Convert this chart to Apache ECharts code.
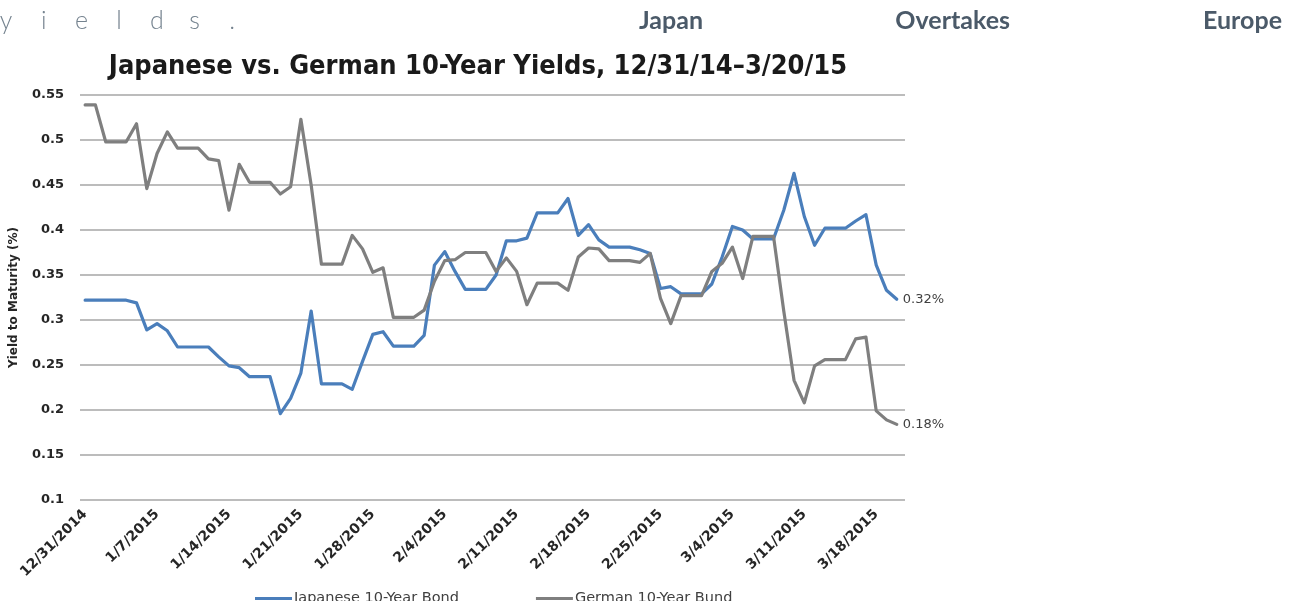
<!DOCTYPE html>
<html>
<head>
<meta charset="utf-8">
<script src="https://cdn.jsdelivr.net/npm/echarts@6/dist/echarts.min.js"></script>
<style>
  html, body { margin: 0; padding: 0; background: #ffffff; }
  #chart { width: 1292px; height: 601px; }
</style>
</head>
<body>
<div id="chart"></div>
<script>
// ---- data ----
const dates = [
  '12/31/2014',
  '1/1/2015','1/2/2015','1/3/2015','1/4/2015','1/5/2015','1/6/2015','1/7/2015','1/8/2015','1/9/2015','1/10/2015',
  '1/11/2015','1/12/2015','1/13/2015','1/14/2015','1/15/2015','1/16/2015','1/17/2015','1/18/2015','1/19/2015','1/20/2015',
  '1/21/2015','1/22/2015','1/23/2015','1/24/2015','1/25/2015','1/26/2015','1/27/2015','1/28/2015','1/29/2015','1/30/2015','1/31/2015',
  '2/1/2015','2/2/2015','2/3/2015','2/4/2015','2/5/2015','2/6/2015','2/7/2015','2/8/2015','2/9/2015','2/10/2015',
  '2/11/2015','2/12/2015','2/13/2015','2/14/2015','2/15/2015','2/16/2015','2/17/2015','2/18/2015','2/19/2015','2/20/2015',
  '2/21/2015','2/22/2015','2/23/2015','2/24/2015','2/25/2015','2/26/2015','2/27/2015','2/28/2015',
  '3/1/2015','3/2/2015','3/3/2015','3/4/2015','3/5/2015','3/6/2015','3/7/2015','3/8/2015','3/9/2015','3/10/2015',
  '3/11/2015','3/12/2015','3/13/2015','3/14/2015','3/15/2015','3/16/2015','3/17/2015','3/18/2015','3/19/2015','3/20/2015'
];

const japan = [
  0.322,0.322,0.322,0.322,0.322,0.319,0.289,0.296,0.288,0.270,
  0.270,0.270,0.270,0.259,0.249,0.247,0.237,0.237,0.237,0.196,
  0.213,0.241,0.310,0.229,0.229,0.229,0.223,0.254,0.284,0.287,
  0.271,0.271,0.271,0.283,0.361,0.376,0.354,0.334,0.334,0.334,
  0.350,0.388,0.388,0.391,0.419,0.419,0.419,0.435,0.394,0.406,
  0.389,0.381,0.381,0.381,0.378,0.374,0.335,0.337,0.329,0.329,
  0.329,0.340,0.370,0.404,0.400,0.390,0.390,0.390,0.422,0.463,
  0.415,0.383,0.402,0.402,0.402,0.410,0.417,0.361,0.333,0.323
];

const germany = [
  0.539,0.539,0.498,0.498,0.498,0.518,0.446,0.485,0.509,0.491,
  0.491,0.491,0.479,0.477,0.422,0.473,0.453,0.453,0.453,0.440,
  0.448,0.523,0.450,0.362,0.362,0.362,0.394,0.379,0.353,0.358,
  0.303,0.303,0.303,0.311,0.343,0.366,0.367,0.375,0.375,0.375,
  0.354,0.369,0.354,0.317,0.341,0.341,0.341,0.333,0.370,0.380,
  0.379,0.366,0.366,0.366,0.364,0.374,0.324,0.296,0.327,0.327,
  0.327,0.354,0.363,0.381,0.346,0.393,0.393,0.393,0.310,0.233,
  0.208,0.249,0.256,0.256,0.256,0.279,0.281,0.199,0.189,0.184
];

const tickIndices = [0,7,14,21,28,35,42,49,56,63,70,77];
const seriesNames = ['Japanese 10-Year Bond', 'German 10-Year Bund'];
const titleText = 'Japanese vs. German 10-Year Yields, 12/31/14\u20133/20/15';
const yAxisName = 'Yield to Maturity (%)';
const headerLetters = ['y','i','e','l','d','s','.'];
const headerWords = ['Japan','Overtakes','Europe'];

// ---- chart ----
const chart = echarts.init(document.getElementById('chart'), null, { renderer: 'canvas' });

const headerGraphics = [];
headerLetters.forEach((ch, i) => {
  headerGraphics.push({
    type: 'text', x: 6 + i * 37.7, y: 21,
    style: { text: ch, font: '300 25px Lato', fill: '#75838f', textAlign: 'center', textVerticalAlign: 'middle' }
  });
});
const wordRight = [703, 1010, 1282];
headerWords.forEach((w, i) => {
  headerGraphics.push({
    type: 'text', x: wordRight[i], y: 21,
    style: { text: w, font: 'bold 25px Lato', fill: '#4b5a69', textAlign: 'right', textVerticalAlign: 'middle' }
  });
});

const mkSeries = (name, values, color) => ({
  name: name,
  type: 'line',
  data: values.map((v, i) => [i, v]),
  symbol: 'none',
  smooth: false,
  lineStyle: { color: color, width: 3.2, join: 'round', cap: 'round' },
  itemStyle: { color: color },
  endLabel: {
    show: true,
    distance: 6,
    color: '#404040',
    fontFamily: 'DejaVu Sans',
    fontSize: 13,
    formatter: p => p.value[1].toFixed(2) + '%'
  },
  animation: false
});

chart.setOption({
  animation: false,
  backgroundColor: '#ffffff',
  graphic: headerGraphics.concat([
    {
      type: 'text', x: 478, y: 67,
      style: { text: titleText, font: 'bold 27px "DejaVu Sans Condensed", "DejaVu Sans"', fill: '#1a1a1a', textAlign: 'center', textVerticalAlign: 'middle' }
    }
  ]),
  grid: { left: 78, right: 1292 - 905, top: 95, bottom: 601 - 500, containLabel: false },
  legend: {
    data: seriesNames,
    left: 250,
    top: 586,
    icon: 'rect',
    itemWidth: 37,
    itemHeight: 3,
    itemGap: 77,
    textStyle: { fontFamily: 'DejaVu Sans', fontSize: 14.5, color: '#404040', padding: [0, 0, 0, -3] }
  },
  xAxis: {
    type: 'value',
    min: -0.5,
    max: 79.8,
    axisLine: { show: false },
    axisTick: { show: false },
    splitLine: { show: false },
    axisLabel: {
      customValues: tickIndices,
      formatter: v => dates[v],
      rotate: 45,
      margin: 12,
      fontFamily: 'DejaVu Sans',
      fontWeight: 'bold',
      fontSize: 14,
      color: '#262626'
    }
  },
  yAxis: {
    type: 'value',
    min: 0.1,
    max: 0.55,
    interval: 0.05,
    name: yAxisName,
    nameLocation: 'middle',
    nameRotate: 90,
    nameGap: 60,
    nameTextStyle: { fontFamily: 'DejaVu Sans', fontWeight: 'bold', fontSize: 12, color: '#262626' },
    axisLine: { show: false },
    axisTick: { show: false },
    splitLine: { show: true, lineStyle: { color: '#a6a6a6', width: 1.6 } },
    axisLabel: {
      margin: 16,
      fontFamily: 'DejaVu Sans',
      fontWeight: 'bold',
      fontSize: 13,
      color: '#262626',
      formatter: v => String(+v.toFixed(2))
    }
  },
  series: [
    mkSeries(seriesNames[0], japan, '#4a7ebb'),
    mkSeries(seriesNames[1], germany, '#7f7f7f')
  ]
});
</script>
</body>
</html>
